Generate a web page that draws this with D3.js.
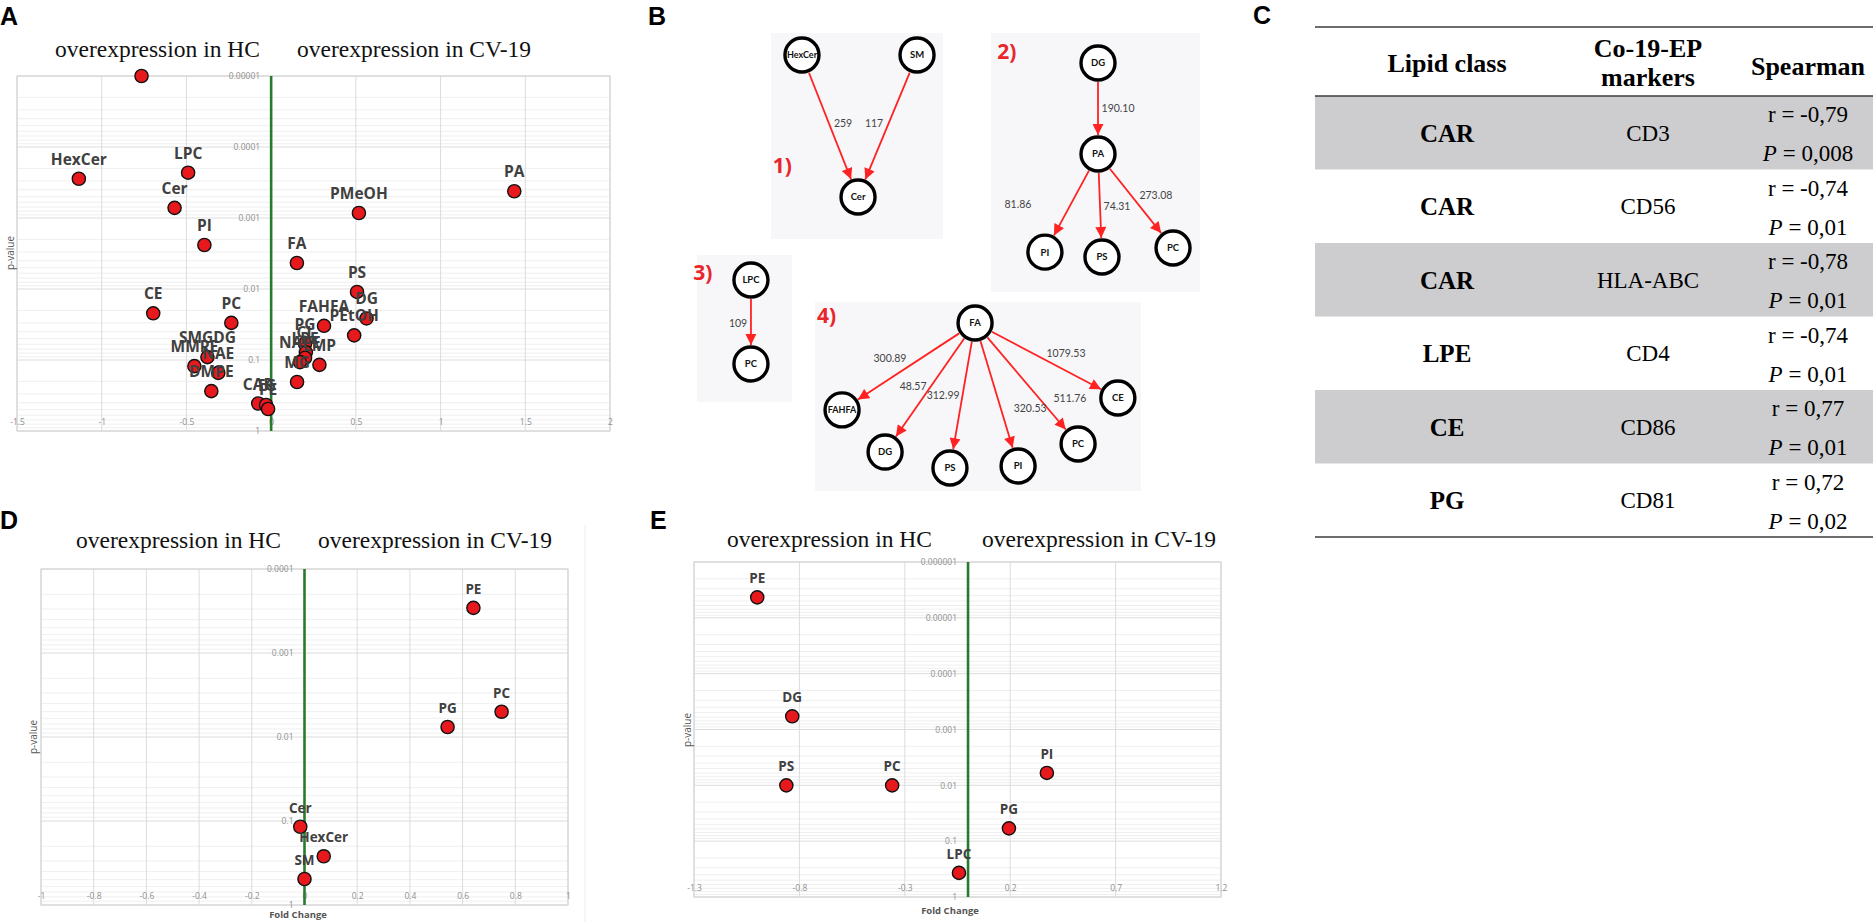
<!DOCTYPE html>
<html>
<head>
<meta charset="utf-8">
<script src="https://cdn.jsdelivr.net/npm/d3@7"></script>
<style>
  body { margin: 0; background: #fff; }
  text { font-family: "Open Sans", "DejaVu Sans", sans-serif; }
  .serif { font-family: "Liberation Serif", "Times New Roman", serif; }
  .panel-tag { font-family: "Liberation Sans", Arial, sans-serif; font-weight: bold; font-size: 25px; fill: #000; }
</style>
</head>
<body>
<svg id="fig" width="1873" height="922"></svg>
<script>

// ---- panel A : volcano, all lipid classes
var aNames = ["", "HexCer", "LPC", "PA", "Cer", "PMeOH", "PI", "FA", "PS", "DG", "CE", "PC", "FAHFA", "PEtOH",
              "PG", "CL", "LPE", "NAPE", "LMP", "MG", "CAR", "TG", "PE", "SMGDG", "MMPE", "NAE", "DMPE"];
var aFold  = [-0.765, -1.135, -0.49, 1.435, -0.57, 0.518, -0.394, 0.152, 0.507, 0.563, -0.696, -0.235, 0.312, 0.49,
              0.2, 0.205, 0.2, 0.17, 0.285, 0.153, -0.076, -0.03, -0.018, -0.376, -0.453, -0.312, -0.353];
var aPval  = [0.00001, 0.00028, 0.00023, 0.00042, 0.00072, 0.00085, 0.0024, 0.0043, 0.011, 0.026, 0.022, 0.030, 0.033, 0.045,
              0.059, 0.078, 0.093, 0.107, 0.117, 0.204, 0.41, 0.43, 0.49, 0.091, 0.122, 0.152, 0.274];
var aXTicks = ["-1.5", "-1", "-0.5", "0", "0.5", "1", "1.5", "2"];
var aYTicks = ["0.00001", "0.0001", "0.001", "0.01", "0.1", "1"];

// ---- panel D
var dNames = ["PE", "PC", "PG", "Cer", "HexCer", "SM"];
var dFold  = [0.641, 0.748, 0.543, -0.016, 0.073, 0.0];
var dPval  = [0.00029, 0.0050, 0.0076, 0.117, 0.263, 0.49];
var dXTicks = ["-1", "-0.8", "-0.6", "-0.4", "-0.2", "0", "0.2", "0.4", "0.6", "0.8", "1"];
var dYTicks = ["0.0001", "0.001", "0.01", "0.1", "1"];

// ---- panel E
var eNames = ["PE", "DG", "PS", "PC", "PI", "PG", "LPC"];
var eFold  = [-1.0, -0.834, -0.862, -0.36, 0.374, 0.194, -0.043];
var ePval  = [0.0000043, 0.00058, 0.010, 0.010, 0.0060, 0.059, 0.37];
var eXTicks = ["-1.3", "-0.8", "-0.3", "0.2", "0.7", "1.2"];
var eYTicks = ["0.000001", "0.00001", "0.0001", "0.001", "0.01", "0.1", "1"];

// ---- panel B : pathway networks (source, target, weight)
var net1Edges = [["HexCer", "Cer", "259"], ["SM", "Cer", "117"]];
var net2Edges = [["DG", "PA", "190.10"], ["PA", "PI", "81.86"], ["PA", "PS", "74.31"], ["PA", "PC", "273.08"]];
var net3Edges = [["LPC", "PC", "109"]];
var net4Edges = [["FA", "FAHFA", "300.89"], ["FA", "DG", "48.57"], ["FA", "PS", "312.99"],
                 ["FA", "PI", "320.53"], ["FA", "PC", "511.76"], ["FA", "CE", "1079.53"]];

// ---- panel C : correlation table
var tLipid   = ["CAR", "CAR", "CAR", "LPE", "CE", "PG"];
var tMarker  = ["CD3", "CD56", "HLA-ABC", "CD4", "CD86", "CD81"];
var tR       = ["-0,79", "-0,74", "-0,78", "-0,74", "0,77", "0,72"];
var tP       = ["0,008", "0,01", "0,01", "0,01", "0,01", "0,02"];


var svg = d3.select("#fig");

var GRID = "#dcdcdc", MINOR = "#efefef", TICKTXT = "#8f8f8f", GREEN = "#2a7a2e", DOT = "#e8191c";

function drawVolcano(o) {
    var x = d3.scaleLinear().domain(o.xDomain).range([o.left, o.right]);
    var y = d3.scaleLog().domain(o.yDomain).range([o.top, o.bottom]);
    var g = svg.append("g");

    var yMajor = o.yTicks.map(Number);
    var xMajor = o.xTicks.map(Number);

    // minor log grid lines
    g.selectAll(".minor")
        .data(y.ticks().filter(function(d) { return yMajor.indexOf(d) < 0; }))
        .enter().append("line")
        .attr("x1", o.left).attr("x2", o.right)
        .attr("y1", y).attr("y2", y)
        .style("stroke", MINOR).style("stroke-width", 1);

    g.selectAll(".hgrid")
        .data(yMajor)
        .enter().append("line")
        .attr("x1", o.left).attr("x2", o.right)
        .attr("y1", y).attr("y2", y)
        .style("stroke", GRID).style("stroke-width", 1);

    g.selectAll(".vgrid")
        .data(xMajor)
        .enter().append("line")
        .attr("x1", x).attr("x2", x)
        .attr("y1", o.top).attr("y2", o.bottom)
        .style("stroke", GRID).style("stroke-width", 1);

    g.append("rect")
        .attr("x", o.left).attr("y", o.top)
        .attr("width", o.right - o.left).attr("height", o.bottom - o.top)
        .style("fill", "none").style("stroke", "#d2d2d2");

    // x tick labels sit just above the bottom edge
    var xAxis = d3.axisBottom(x).tickValues(xMajor).tickSize(0)
        .tickFormat(function(d, i) { return o.xTicks[i]; });
    var gx = g.append("g")
        .attr("transform", "translate(0," + (o.bottom - 15) + ")")
        .call(xAxis);
    gx.select(".domain").remove();
    gx.selectAll("text").style("fill", TICKTXT).style("font-size", "8.5px")
        .style("font-family", "'Open Sans', sans-serif");

    // y tick labels hang off the zero line
    var yAxis = d3.axisLeft(y).tickValues(yMajor).tickSize(0)
        .tickFormat(function(d, i) { return o.yTicks[i]; });
    var gy = g.append("g")
        .attr("transform", "translate(" + (x(0) - 8) + ",0)")
        .call(yAxis);
    gy.select(".domain").remove();
    gy.selectAll("text").style("fill", TICKTXT).style("font-size", "8.5px")
        .style("font-family", "'Open Sans', sans-serif");

    g.append("line")
        .attr("x1", x(0)).attr("x2", x(0))
        .attr("y1", o.top).attr("y2", o.bottom)
        .style("stroke", GREEN).style("stroke-width", 2.6);

    g.append("text")
        .attr("transform", "translate(" + o.yLabel[0] + "," + o.yLabel[1] + ") rotate(-90)")
        .attr("text-anchor", "middle").attr("dy", "0.35em")
        .style("font-size", "10px").style("fill", "#555")
        .text("p-value");

    if (o.xLabel) {
        g.append("text")
            .attr("x", o.xLabel[0]).attr("y", o.xLabel[1])
            .attr("text-anchor", "middle")
            .style("font-size", "9.5px").style("font-weight", "bold").style("fill", "#555")
            .text("Fold Change");
    }

    // headings over the two halves
    g.append("text").attr("class", "serif")
        .attr("x", o.head[0]).attr("y", o.head[2])
        .style("font-size", "23.5px").style("fill", "#111")
        .text("overexpression in HC");
    g.append("text").attr("class", "serif")
        .attr("x", o.head[1]).attr("y", o.head[2])
        .style("font-size", "23.5px").style("fill", "#111")
        .text("overexpression in CV-19");

    var pts = o.names.map(function(n, i) { return { name: n, fc: o.fold[i], p: o.pval[i] }; });

    g.selectAll(".dot")
        .data(pts)
        .enter().append("circle")
        .attr("cx", function(d) { return x(d.fc); })
        .attr("cy", function(d) { return y(d.p); })
        .attr("r", 6.6)
        .style("fill", DOT).style("stroke", "#111").style("stroke-width", 1.4);

    g.selectAll(".lbl")
        .data(pts)
        .enter().append("text")
        .attr("x", function(d) { return x(d.fc); })
        .attr("y", function(d) { return y(d.p) - 14; })
        .attr("text-anchor", "middle")
        .style("font-size", o.labelSize).style("font-weight", "bold").style("fill", "#404040")
        .text(function(d) { return d.name; });
}

drawVolcano({
    left: 17, right: 610, top: 76, bottom: 431,
    xDomain: [-1.5, 2], yDomain: [0.00001, 1],
    xTicks: aXTicks, yTicks: aYTicks,
    names: aNames, fold: aFold, pval: aPval,
    yLabel: [10, 253], xLabel: null,
    head: [55, 297, 57], labelSize: "15.5px"
});

drawVolcano({
    left: 41, right: 568, top: 569, bottom: 905,
    xDomain: [-1, 1], yDomain: [0.0001, 1],
    xTicks: dXTicks, yTicks: dYTicks,
    names: dNames, fold: dFold, pval: dPval,
    yLabel: [33, 737], xLabel: [298, 918],
    head: [76, 318, 548], labelSize: "13.5px"
});

drawVolcano({
    left: 694, right: 1221, top: 562, bottom: 897,
    xDomain: [-1.3, 1.2], yDomain: [0.000001, 1],
    xTicks: eXTicks, yTicks: eYTicks,
    names: eNames, fold: eFold, pval: ePval,
    yLabel: [687, 730], xLabel: [950, 914],
    head: [727, 982, 547], labelSize: "13.5px"
});

// faint chart-area border of D
svg.append("line")
    .attr("x1", 585).attr("x2", 585).attr("y1", 525).attr("y2", 922)
    .style("stroke", "#ececec");


// ---------- networks ----------
var defs = svg.append("defs");
defs.append("marker")
    .attr("id", "arrow")
    .attr("viewBox", "0 0 10 10")
    .attr("refX", 10).attr("refY", 5)
    .attr("markerUnits", "userSpaceOnUse")
    .attr("markerWidth", 12).attr("markerHeight", 11)
    .attr("orient", "auto")
  .append("path")
    .attr("d", "M0,0 L10,5 L0,10 z")
    .style("fill", "#f22");

// node placement inside each box, as fractions of the box
var netLayouts = [
    { box: [771, 943, 33, 239], edges: net1Edges, tag: "1)", tagAt: [0.01, 0.68],
      nodes: { HexCer: [0.18, 0.107], SM: [0.849, 0.107], Cer: [0.506, 0.796] },
      labels: [[0.419, 0.437], [0.599, 0.437]] },
    { box: [991, 1200, 33, 292], edges: net2Edges, tag: "2)", tagAt: [0.03, 0.1],
      nodes: { DG: [0.512, 0.116], PA: [0.512, 0.467], PI: [0.258, 0.846], PS: [0.531, 0.865], PC: [0.871, 0.83] },
      labels: [[0.608, 0.29], [0.129, 0.66], [0.603, 0.668], [0.789, 0.625]] },
    { box: [697, 792, 255, 402], edges: net3Edges, tag: "3)", tagAt: [-0.04, 0.17],
      nodes: { LPC: [0.568, 0.17], PC: [0.568, 0.741] },
      labels: [[0.432, 0.463]] },
    { box: [815, 1141, 302, 491], edges: net4Edges, tag: "4)", tagAt: [0.006, 0.11],
      nodes: { FA: [0.491, 0.111], FAHFA: [0.083, 0.571], DG: [0.215, 0.794], PS: [0.414, 0.878],
               PI: [0.623, 0.868], PC: [0.807, 0.751], CE: [0.929, 0.508] },
      labels: [[0.23, 0.296], [0.301, 0.444], [0.393, 0.492], [0.66, 0.56], [0.782, 0.508], [0.77, 0.27]] }
];

var NODE_R = 17;

netLayouts.forEach(function(net) {
    var bx = d3.scaleLinear().domain([0, 1]).range([net.box[0], net.box[1]]);
    var by = d3.scaleLinear().domain([0, 1]).range([net.box[2], net.box[3]]);
    var g = svg.append("g");

    g.append("rect")
        .attr("x", bx(0)).attr("y", by(0))
        .attr("width", bx(1) - bx(0)).attr("height", by(1) - by(0))
        .style("fill", "#f7f7f9");

    function pos(name) { return [bx(net.nodes[name][0]), by(net.nodes[name][1])]; }

    g.selectAll(".edge")
        .data(net.edges)
        .enter().append("line")
        .each(function(e) {
            var s = pos(e[0]), t = pos(e[1]);
            var dx = t[0] - s[0], dy = t[1] - s[1], len = Math.sqrt(dx * dx + dy * dy);
            var ux = dx / len, uy = dy / len, off = NODE_R + 2;
            d3.select(this)
                .attr("x1", s[0] + ux * off).attr("y1", s[1] + uy * off)
                .attr("x2", t[0] - ux * off).attr("y2", t[1] - uy * off);
        })
        .style("stroke", "#f22").style("stroke-width", 1.8)
        .attr("marker-end", "url(#arrow)");

    g.selectAll(".elbl")
        .data(net.edges)
        .enter().append("text")
        .attr("x", function(e, i) { return bx(net.labels[i][0]); })
        .attr("y", function(e, i) { return by(net.labels[i][1]); })
        .attr("text-anchor", "middle").attr("dy", "0.35em")
        .style("font-family", "Lato, 'Open Sans', sans-serif")
        .style("font-size", "10.5px").style("fill", "#444")
        .text(function(e) { return e[2]; });

    var names = Object.keys(net.nodes);
    g.selectAll(".node")
        .data(names)
        .enter().append("circle")
        .attr("cx", function(n) { return pos(n)[0]; })
        .attr("cy", function(n) { return pos(n)[1]; })
        .attr("r", NODE_R)
        .style("fill", "#fff").style("stroke", "#000").style("stroke-width", 3.4);

    g.selectAll(".nlbl")
        .data(names)
        .enter().append("text")
        .attr("x", function(n) { return pos(n)[0]; })
        .attr("y", function(n) { return pos(n)[1]; })
        .attr("text-anchor", "middle").attr("dy", "0.36em")
        .style("font-family", "Lato, 'Open Sans', sans-serif").style("font-weight", "bold")
        .style("font-size", function(n) { return n.length > 4 ? "9px" : "9.5px"; })
        .style("fill", "#111")
        .text(function(n) { return n; });

    g.append("text")
        .attr("x", bx(net.tagAt[0])).attr("y", by(net.tagAt[1]))
        .style("font-family", "'Open Sans', sans-serif").style("font-weight", "bold")
        .style("font-size", "21px").style("fill", "#e8262b")
        .text(net.tag);
});


// ---------- table ----------
function drawTable() {
    var x0 = 1315, x1 = 1873;
    var colX = [1447, 1648, 1808];
    var g = svg.append("g").attr("class", "serif");
    var rows = d3.scaleBand().domain(d3.range(tLipid.length)).range([96, 537]);

    g.selectAll(".band")
        .data(d3.range(tLipid.length).filter(function(i) { return i % 2 === 0; }))
        .enter().append("rect")
        .attr("x", x0).attr("width", x1 - x0)
        .attr("y", function(i) { return rows(i); })
        .attr("height", rows.bandwidth())
        .style("fill", "#cdcdcf");

    [27, 96, 537].forEach(function(yy) {
        g.append("line")
            .attr("x1", x0).attr("x2", x1).attr("y1", yy).attr("y2", yy)
            .style("stroke", "#3c3c3c").style("stroke-width", 1.6);
    });

    var head = g.append("g").style("font-weight", "bold").style("font-size", "26px")
        .attr("text-anchor", "middle").style("fill", "#000");
    head.append("text").attr("class", "serif").attr("x", colX[0]).attr("y", 72).text("Lipid class");
    head.append("text").attr("class", "serif").attr("x", colX[1]).attr("y", 57).text("Co-19-EP");
    head.append("text").attr("class", "serif").attr("x", colX[1]).attr("y", 86).text("markers");
    head.append("text").attr("class", "serif").attr("x", colX[2]).attr("y", 75).text("Spearman");

    var h = rows.bandwidth();
    tLipid.forEach(function(l, i) {
        var top = rows(i);
        g.append("text").attr("class", "serif")
            .attr("x", colX[0]).attr("y", top + h / 2 + 9)
            .attr("text-anchor", "middle")
            .style("font-weight", "bold").style("font-size", "25px")
            .text(l);
        g.append("text").attr("class", "serif")
            .attr("x", colX[1]).attr("y", top + h / 2 + 8)
            .attr("text-anchor", "middle")
            .style("font-size", "23px")
            .text(tMarker[i]);
        g.append("text").attr("class", "serif")
            .attr("x", colX[2]).attr("y", top + 26)
            .attr("text-anchor", "middle")
            .style("font-size", "23px")
            .text("r = " + tR[i]);
        var pt = g.append("text").attr("class", "serif")
            .attr("x", colX[2]).attr("y", top + 65)
            .attr("text-anchor", "middle")
            .style("font-size", "23px");
        pt.append("tspan").style("font-style", "italic").text("P");
        pt.append("tspan").text(" = " + tP[i]);
    });
}
drawTable();

// panel letters
[["A", 0, 25], ["B", 648, 25], ["C", 1253, 24], ["D", 0, 529], ["E", 650, 529]].forEach(function(t) {
    svg.append("text").attr("class", "panel-tag")
        .attr("x", t[1]).attr("y", t[2]).text(t[0]);
});

</script>
</body>
</html>
